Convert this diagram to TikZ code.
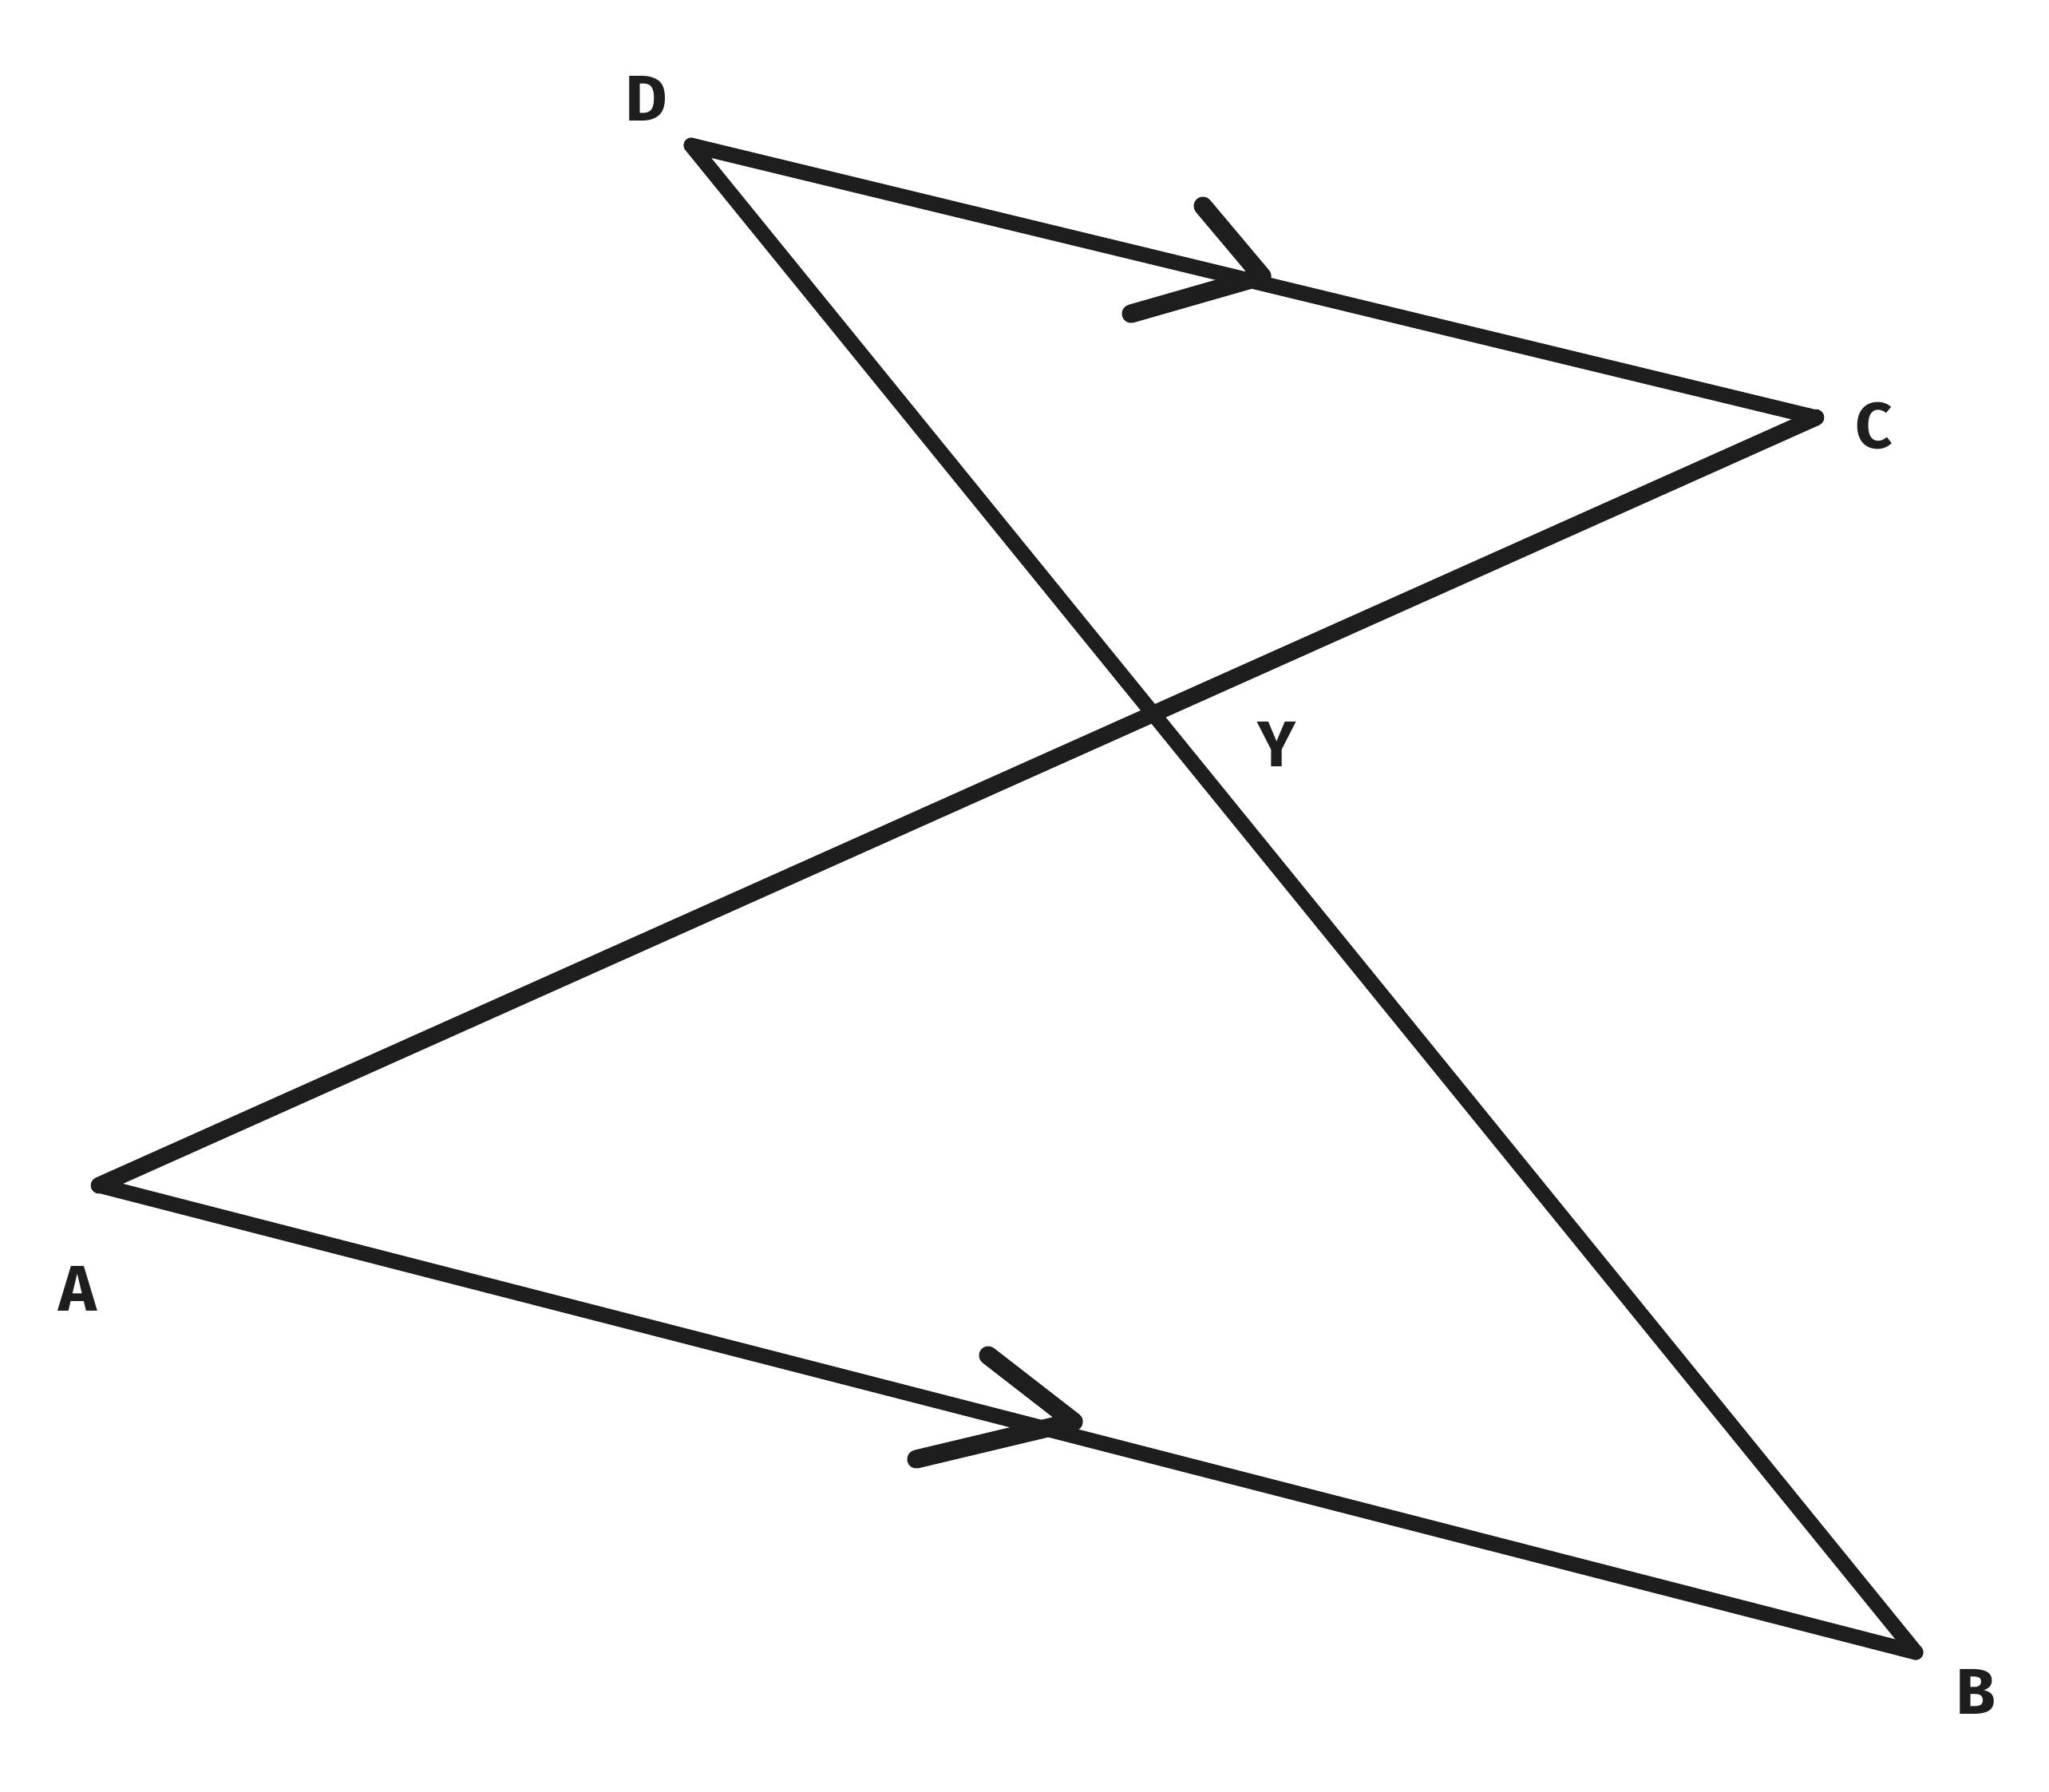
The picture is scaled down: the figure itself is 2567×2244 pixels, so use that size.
\documentclass[tikz,border=0pt]{standalone}
\usepackage{fontspec}
\setmainfont{Fira Sans}
\definecolor{ink}{HTML}{1E1E1E}
\begin{document}
\begin{tikzpicture}[x=0.01cm,y=-0.01cm,
  edge/.style={draw=ink,line width=5.4pt,line cap=round,line join=round},
  tick/.style={draw=ink,line width=6.6pt,line cap=round,line join=round},
  lbl/.style={text=ink,font=\fontsize{23}{26}\selectfont\bfseries,inner sep=0pt,anchor=center}]
\useasboundingbox (0,0) rectangle (2567,2244);
\coordinate (D) at (866,182);
\coordinate (C) at (2275,523);
\coordinate (A) at (124,1485);
\coordinate (B) at (2400,2070);
% chevrons
\coordinate (t1) at (1581,346);
\coordinate (t1a) at (1507,258);
\coordinate (t1b) at (1417,393);
\coordinate (t2) at (1345,1781);
\coordinate (t2a) at (1238,1698);
\coordinate (t2b) at (1148,1828);
\draw[edge] (D) -- (C);
\draw[edge,line width=5.9pt] (C) -- (A);
\draw[edge] (A) -- (B);
\draw[edge] (B) -- (D);
\draw[tick] (t1a) -- (t1) -- (t1b);
\draw[tick] (t2a) -- (t2) -- (t2b);
\node[lbl] (lD) at (810,123) {D};
\node[lbl] (lC) at (2348,533) {C};
\node[lbl] (lA) at (97,1614) {A};
\node[lbl] (lB) at (2475,2119) {B};
\node[lbl] (lY) at (1599,932) {Y};
\end{tikzpicture}
\end{document}
